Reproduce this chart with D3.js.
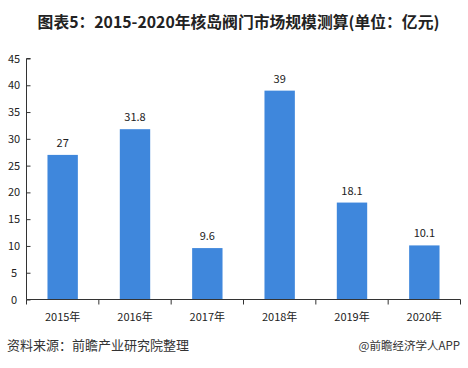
<!DOCTYPE html>
<html><head><meta charset="utf-8">
<script src="https://cdn.jsdelivr.net/npm/d3@7/dist/d3.min.js"></script>
<style>body{margin:0;background:#fff}svg{display:block}</style>
</head><body>
<script>
const categories = ["2015年","2016年","2017年","2018年","2019年","2020年"];
const values = [27, 31.8, 9.6, 39, 18.1, 10.1];
const valueLabels = ["27","31.8","9.6","39","18.1","10.1"];
const yTicks = [0,5,10,15,20,25,30,35,40,45];
const titleText = "图表5：2015-2020年核岛阀门市场规模测算(单位：亿元)";
const sourceText = "资料来源：前瞻产业研究院整理";
const creditText = "@前瞻经济学人APP";

const W = 468, H = 368;
const svg = d3.select("body").append("svg").attr("width", W).attr("height", H);
const font = "'Microsoft YaHei','Noto Sans CJK SC',sans-serif";

const x = d3.scaleBand().domain(categories).range([26.5, 460.5]).paddingInner(0.58).paddingOuter(0.29);
const y = d3.scaleLinear().domain([0,45]).range([299.5, 58.5]);

svg.append("text").attr("x", 238.5).attr("y", 28).attr("text-anchor","middle")
  .attr("font-family", font).attr("font-weight","bold").attr("font-size", 15.8).attr("fill","#222").text(titleText);

// bars
svg.selectAll("rect.bar").data(values).enter().append("rect")
  .attr("x", (d,i)=>x(categories[i])).attr("width", x.bandwidth())
  .attr("y", d=>y(d)).attr("height", d=>y(0)-y(d)).attr("fill","#3f87dc");

// value labels
svg.selectAll("text.val").data(values).enter().append("text")
  .attr("x",(d,i)=>x(categories[i])+x.bandwidth()/2).attr("y", d=>y(d)-8)
  .attr("text-anchor","middle").attr("font-family", font).attr("font-size", 11).attr("fill","#222")
  .text((d,i)=>valueLabels[i]);

// y axis
const yAxis = d3.axisRight(y).tickValues(yTicks).tickSize(4).tickFormat("");
const gy = svg.append("g").attr("transform","translate(26.5,0)").call(yAxis);
gy.select(".domain").attr("stroke","#333").attr("d", `M4,${y(45)}H0V${y(0)}`);
gy.selectAll(".tick line").attr("stroke","#333");
svg.selectAll("text.yl").data(yTicks).enter().append("text")
  .attr("x", 14).attr("y", d=>y(d)+4).attr("text-anchor","middle")
  .attr("font-family", font).attr("font-size", 11).attr("fill","#222").text(d=>d);

// x axis
const gx = svg.append("g").attr("transform",`translate(0,${y(0)})`);
gx.append("line").attr("x1",26.5).attr("x2",460.5).attr("stroke","#333");
const bounds = categories.map(c=>x(c)-x.step()*0.29).concat([460.5]);
gx.selectAll("line.t").data(bounds).enter().append("line")
  .attr("x1",d=>d).attr("x2",d=>d).attr("y1",0).attr("y2",5).attr("stroke","#333");
gx.selectAll("text").data(categories).enter().append("text")
  .attr("x", c=>x(c)+x.bandwidth()/2).attr("y", 21).attr("text-anchor","middle")
  .attr("font-family", font).attr("font-size", 11).attr("fill","#222").text(c=>c);

svg.append("text").attr("x", 7).attr("y", 350).attr("font-family", font).attr("font-size", 13).attr("fill","#333").text(sourceText);
svg.append("text").attr("x", 460).attr("y", 350).attr("text-anchor","end").attr("font-family", font).attr("font-size", 11.5).attr("fill","#333").text(creditText);
</script>
</body></html>
